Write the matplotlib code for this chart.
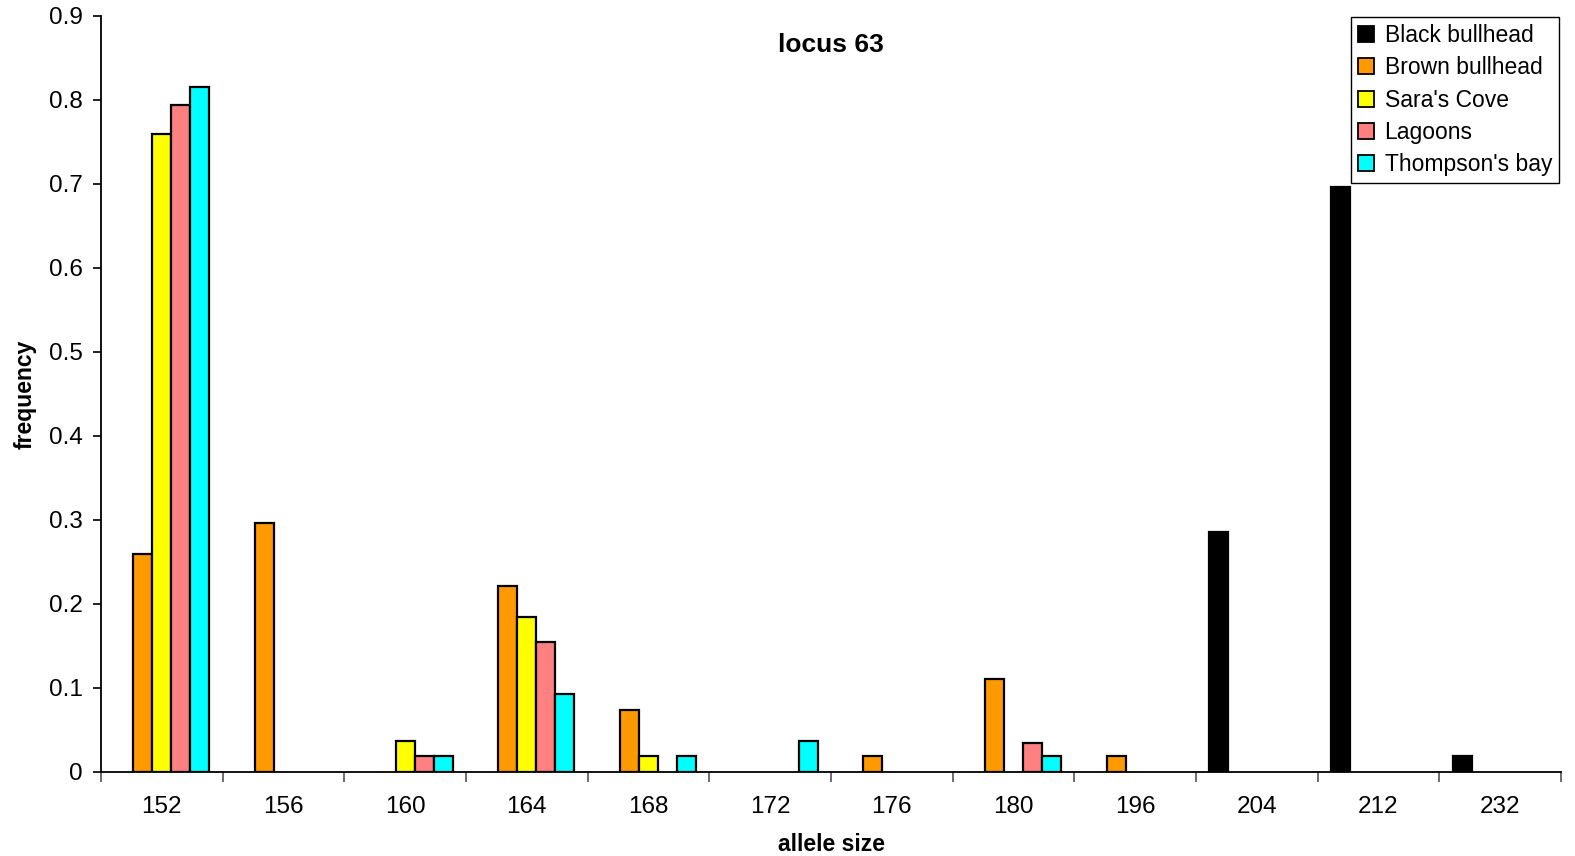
import numpy as np
import matplotlib
matplotlib.use("Agg")
import matplotlib.pyplot as plt
from matplotlib.ticker import FixedLocator, NullFormatter

plt.rcParams['font.family'] = ['Liberation Sans', 'DejaVu Sans']

categories = ["152", "156", "160", "164", "168", "172", "176", "180", "196", "204", "212", "232"]
series_names = ["Black bullhead", "Brown bullhead", "Sara's Cove", "Lagoons", "Thompson's bay"]
black_bullhead = [0, 0, 0, 0, 0, 0, 0, 0, 0, 0.286, 0.696, 0.0185]
brown_bullhead = [0.259, 0.296, 0, 0.222, 0.074, 0, 0.0185, 0.111, 0.0185, 0, 0, 0]
saras_cove = [0.759, 0, 0.037, 0.185, 0.0185, 0, 0, 0, 0, 0, 0, 0]
lagoons = [0.794, 0, 0.0185, 0.155, 0, 0, 0, 0.035, 0, 0, 0, 0]
thompsons_bay = [0.815, 0, 0.0185, 0.093, 0.0185, 0.037, 0, 0.0185, 0, 0, 0, 0]
colors = ["#000000", "#FF9900", "#FFFF00", "#FF8080", "#00FFFF"]

all_series = [black_bullhead, brown_bullhead, saras_cove, lagoons, thompsons_bay]

fig = plt.figure(figsize=(15.75, 8.56), dpi=100)
ax = fig.add_axes([101/1575, 84/856, 1460/1575, 756/856])

n = len(categories)
x = np.arange(n)
bw = 0.156
for i, (vals, name, c) in enumerate(zip(all_series, series_names, colors)):
    vals = np.array(vals, dtype=float)
    offs = (i - 2) * bw
    mask = vals > 0
    ax.bar(x[mask] + offs, vals[mask], width=bw, color=c, edgecolor="black",
           linewidth=1.6, zorder=3)
    ax.bar([np.nan], [np.nan], width=bw, color=c, edgecolor="black", linewidth=1.3, label=name)

ax.set_xlim(-0.5, n - 0.5)
ax.set_ylim(0, 0.9)
ax.set_yticks(np.arange(0, 0.91, 0.1))
ax.set_yticklabels(["0"] + [f"{v:.1f}" for v in np.arange(0.1, 0.91, 0.1)])

ax.xaxis.set_major_locator(FixedLocator(np.arange(-0.5, n, 1.0)))
ax.xaxis.set_major_formatter(NullFormatter())
ax.xaxis.set_minor_locator(FixedLocator(x))
ax.set_xticklabels(categories, minor=True)
ax.tick_params(axis='x', which='major', direction='out', length=7, width=1.2, color='#555555')
ax.tick_params(axis='x', which='minor', length=0, pad=17, labelsize=17.5)
ax.tick_params(axis='y', direction='out', length=6, width=1.2, labelsize=17.5, pad=7)

for s in ["top", "right"]:
    ax.spines[s].set_visible(False)
ax.spines["left"].set_linewidth(1.3)
ax.spines["bottom"].set_linewidth(1.3)

ax.set_xlabel("allele size", fontsize=16.5, fontweight="bold", labelpad=11)
ax.set_ylabel("frequency", fontsize=16.5, fontweight="bold", labelpad=9)
ax.text(0.5, 0.962, "locus 63", transform=ax.transAxes, ha="center", va="center",
        fontsize=19, fontweight="bold")

leg = fig.legend(loc="upper right", bbox_to_anchor=(1559/1575, 1 - 17/856),
                 fontsize=16.5, handlelength=0.7, handleheight=0.7, handletextpad=0.45,
                 labelspacing=0.41, borderpad=0.3, fancybox=False, framealpha=1,
                 edgecolor="black", borderaxespad=0.0)
leg.get_frame().set_linewidth(1.0)

fig.savefig("out.png", dpi=100)
